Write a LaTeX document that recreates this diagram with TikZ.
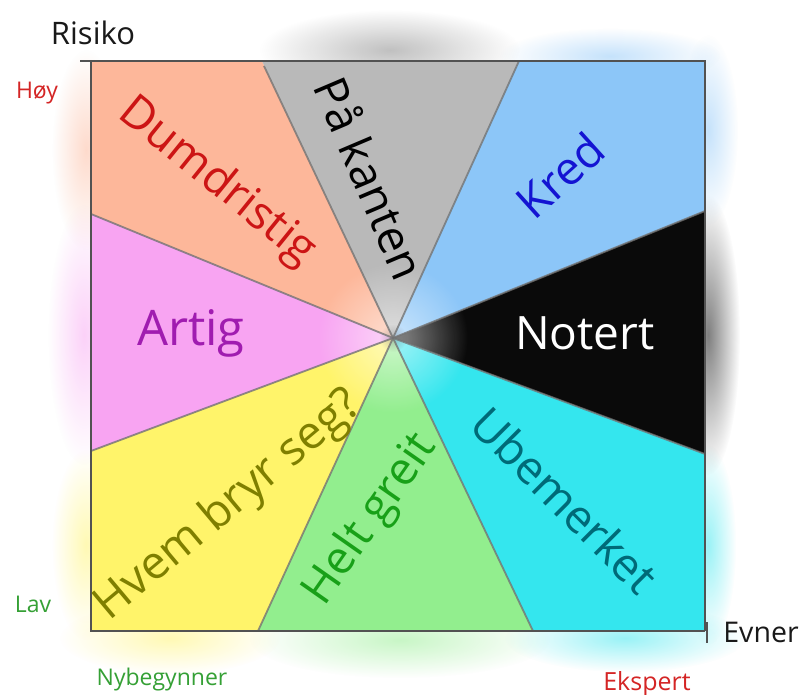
\documentclass[tikz,border=0pt]{standalone}
\usepackage{fontspec}
\setmainfont{Open Sans}
\usetikzlibrary{fadings}
\tikzfading[name=softout, inner color=transparent!0, outer color=transparent!100]
\definecolor{cSalmon}{HTML}{FDB79A}
\definecolor{cGray}{HTML}{B9B9B9}
\definecolor{cBlue}{HTML}{8CC6F8}
\definecolor{cBlack}{HTML}{0A0A0A}
\definecolor{cCyan}{HTML}{34E6EE}
\definecolor{cGreen}{HTML}{92EE8E}
\definecolor{cYellow}{HTML}{FFF46A}
\definecolor{cPink}{HTML}{F8A4F2}
\definecolor{tRed}{HTML}{CC1515}
\definecolor{tPurple}{HTML}{A01CB0}
\definecolor{tBlue}{HTML}{1414D2}
\definecolor{tOlive}{HTML}{7F7F00}
\definecolor{tGreen}{HTML}{18A018}
\definecolor{tTeal}{HTML}{006A78}
\definecolor{sRed}{HTML}{D42525}
\definecolor{sGreen}{HTML}{35A035}
\begin{document}
\begin{tikzpicture}[x=1pt,y=-1pt,
  big/.style={font=\fontsize{46}{52}\selectfont, inner sep=0pt},
  small/.style={font=\fontsize{23}{27}\selectfont, inner sep=0pt},
  axislabel/.style={font=\fontsize{31}{36}\selectfont, inner sep=0pt, text=black!90},
  divider/.style={draw=black!55, line width=1.8pt, opacity=0.8},
  frame/.style={draw=black!68, line width=2.2pt},
  halo/.style={path fading=softout, opacity=0.5}]
\useasboundingbox (0,0) rectangle (808,695);
\fill[white] (0,0) rectangle (808,695);
% key points
\coordinate (C) at (393,338);
\coordinate (TL) at (91,61);
\coordinate (TR) at (705,61);
\coordinate (BR) at (705,631);
\coordinate (BL) at (91,631);
\coordinate (T1) at (262,61);
\coordinate (T1e) at (264,66);
\coordinate (T2) at (519,61);
\coordinate (L1) at (91,214);
\coordinate (L2) at (91,451);
\coordinate (R1) at (705,211);
\coordinate (R2) at (705,454);
\coordinate (B1) at (258,631);
\coordinate (B2) at (533,631);
% halos outside the square
\fill[cGray!70!black, halo] (390,50) ellipse (130 and 40);
\fill[cSalmon, halo] (86,150) ellipse (34 and 100);
\fill[cPink, halo] (84,335) ellipse (36 and 130);
\fill[cYellow, halo] (86,545) ellipse (34 and 95);
\fill[cYellow, halo] (170,638) ellipse (110 and 36);
\fill[cGreen, halo] (400,640) ellipse (150 and 38);
\fill[cCyan, halo] (625,638) ellipse (120 and 34);
\fill[cCyan, halo] (708,545) ellipse (28 and 100);
\fill[black, halo] (708,335) ellipse (32 and 140);
\fill[cBlue, halo] (708,130) ellipse (30 and 95);
\fill[cBlue, halo] (610,56) ellipse (110 and 28);
% sectors
\fill[cSalmon] (C) -- (L1) -- (TL) -- (T1) -- cycle;
\fill[cGray] (C) -- (T1) -- (T2) -- cycle;
\fill[cBlue] (C) -- (T2) -- (TR) -- (R1) -- cycle;
\fill[cBlack] (C) -- (R1) -- (R2) -- cycle;
\fill[cCyan] (C) -- (R2) -- (BR) -- (B2) -- cycle;
\fill[cGreen] (C) -- (B2) -- (B1) -- cycle;
\fill[cYellow] (C) -- (B1) -- (BL) -- (L2) -- cycle;
\fill[cPink] (C) -- (L2) -- (L1) -- cycle;
% soft light toward the centre
\fill[white, opacity=0.55, path fading=softout] (C) circle (75);
\fill[black!70, opacity=0.3, path fading=softout] (C) circle (14);
% dividers
\draw[divider] (C) -- (T1e);
\draw[divider] (C) -- (T2);
\draw[divider] (C) -- (R1);
\draw[divider] (C) -- (R2);
\draw[divider] (C) -- (B2);
\draw[divider] (C) -- (B1);
\draw[divider] (C) -- (L2);
\draw[divider] (C) -- (L1);
% frame and axes
\coordinate (TLtick) at (80,61);
\coordinate (BRtickA) at (707,622);
\coordinate (BRtickB) at (707,643);
\draw[frame, line width=1.6pt] (TL) -- (TR) -- (BR);
\draw[frame, line width=2.6pt] (TLtick) -- (TL) -- (BL) -- (BR);
\draw[frame, line width=2.6pt] (BRtickA) -- (BRtickB);
% axis labels
\node[axislabel] (risiko) at (93,33) {Risiko};
\node[axislabel, font=\fontsize{28.5}{34}\selectfont] (evner) at (761,632) {Evner};
\node[small, text=sRed] (hoy) at (37,93) {Høy};
\node[small, text=sGreen] (lav) at (33,604) {Lav};
\node[small, text=sGreen] (nyb) at (162,680) {Nybegynner};
\node[small, text=sRed, font=\fontsize{25}{28}\selectfont] (eksp) at (647,684) {Ekspert};
% sector labels
\node[big, text=tRed, rotate=-39] (dum) at (217,182) {Dumdristig};
\node[big, text=black, rotate=-67] (kant) at (371,178) {På kanten};
\node[big, text=tBlue, rotate=42] (kred) at (560,175) {Kred};
\node[big, text=tPurple, font=\fontsize{49}{54}\selectfont] (artig) at (191,333) {Artig};
\node[big, text=white] (notert) at (585,333) {Notert};
\node[big, text=tOlive, rotate=40] (hvem) at (229,506) {Hvem bryr seg?};
\node[big, text=tGreen, rotate=55] (helt) at (371,520) {Helt greit};
\node[big, text=tTeal, rotate=-45] (ube) at (565,500) {Ubemerket};
\end{tikzpicture}
\end{document}
